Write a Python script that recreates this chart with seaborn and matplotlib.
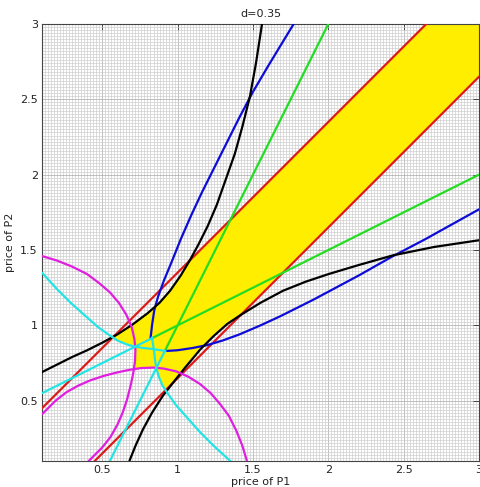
import numpy as np
import matplotlib
matplotlib.use("Agg")
import matplotlib.pyplot as plt
import seaborn as sns

sns.set_style("white")
plt.rcParams['font.family'] = ['DejaVu Sans']

# ---- data (price of P1 -> x, price of P2 -> y) ----
red_up_x = [0.10, 0.68, 1.07, 1.60, 2.10, 2.65]
red_up_y = [0.45, 1.03, 1.42, 1.95, 2.45, 3.00]
red_lo_x = [0.45, 1.00, 1.42, 2.00, 2.50, 3.00]
red_lo_y = [0.10, 0.65, 1.07, 1.65, 2.15, 2.65]

black1_x = [0.10, 0.20, 0.30, 0.40, 0.50, 0.60, 0.70, 0.80, 0.88, 0.95, 1.02, 1.08, 1.14, 1.20,
            1.26, 1.32, 1.38, 1.43, 1.48, 1.52, 1.56]
black1_y = [0.69, 0.74, 0.79, 0.835, 0.885, 0.94, 1.005, 1.08, 1.15, 1.23, 1.33, 1.43, 1.54, 1.66,
            1.80, 1.97, 2.14, 2.32, 2.52, 2.74, 3.00]
black2_x = [0.68, 0.72, 0.77, 0.83, 0.90, 0.97, 1.05, 1.15, 1.24, 1.33, 1.42, 1.55, 1.70, 1.85,
            2.00, 2.20, 2.43, 2.70, 3.00]
black2_y = [0.10, 0.20, 0.31, 0.42, 0.53, 0.62, 0.72, 0.84, 0.93, 1.01, 1.07, 1.15, 1.23, 1.29,
            1.34, 1.40, 1.465, 1.52, 1.565]

blue1_x = [0.82, 0.83, 0.845, 0.87, 0.91, 0.96, 1.02, 1.09, 1.16, 1.27, 1.41, 1.50, 1.60, 1.77]
blue1_y = [0.91, 1.00, 1.10, 1.19, 1.30, 1.42, 1.57, 1.73, 1.88, 2.10, 2.38, 2.55, 2.72, 3.00]
blue2_x = [0.92, 1.00, 1.10, 1.20, 1.30, 1.41, 1.55, 1.68, 1.80, 1.90, 2.05, 2.20, 2.43, 2.64, 2.82, 3.00]
blue2_y = [0.83, 0.835, 0.85, 0.87, 0.90, 0.94, 1.00, 1.06, 1.12, 1.17, 1.25, 1.33, 1.46, 1.57, 1.67, 1.77]

green1_x = [0.83, 3.00]
green1_y = [0.915, 2.00]
green2_x = [0.915, 2.00]
green2_y = [0.83, 3.00]

cyan1_x = [0.10, 0.20, 0.29, 0.38, 0.47, 0.54, 0.60, 0.66, 0.71, 0.77, 0.82, 0.92]
cyan1_y = [1.35, 1.24, 1.15, 1.07, 0.99, 0.94, 0.90, 0.875, 0.86, 0.85, 0.845, 0.83]
cyan2_x = [0.83, 0.845, 0.85, 0.86, 0.875, 0.90, 0.94, 0.99, 1.07, 1.15, 1.24, 1.35]
cyan2_y = [0.92, 0.82, 0.77, 0.71, 0.66, 0.60, 0.54, 0.47, 0.38, 0.29, 0.20, 0.10]
cyan3_x = [0.10, 0.83]
cyan3_y = [0.55, 0.915]
cyan4_x = [0.55, 0.915]
cyan4_y = [0.10, 0.83]

mag1_x = [0.10, 0.20, 0.30, 0.40, 0.48, 0.55, 0.61, 0.66, 0.695, 0.713, 0.72, 0.717, 0.705,
          0.688, 0.665, 0.635, 0.60, 0.555, 0.50, 0.45, 0.41]
mag1_y = [1.46, 1.43, 1.39, 1.34, 1.28, 1.22, 1.15, 1.07, 0.99, 0.91, 0.84, 0.76, 0.68,
          0.60, 0.51, 0.42, 0.34, 0.26, 0.19, 0.14, 0.10]
mag2_x = [1.46, 1.43, 1.39, 1.34, 1.28, 1.22, 1.15, 1.07, 0.99, 0.91, 0.84, 0.76, 0.68,
          0.60, 0.51, 0.42, 0.34, 0.26, 0.19, 0.14, 0.10]
mag2_y = [0.10, 0.20, 0.30, 0.40, 0.48, 0.55, 0.61, 0.66, 0.695, 0.713, 0.72, 0.717, 0.705,
          0.688, 0.665, 0.635, 0.60, 0.555, 0.50, 0.45, 0.41]

yellow_x = [2.65, 3.00, 3.00, 1.42, 1.33, 1.24, 1.15, 1.05, 0.97, 0.925, 0.90, 0.875, 0.86, 0.857,
            0.84, 0.76, 0.716, 0.717, 0.72, 0.72, 0.71, 0.66, 0.60, 0.568, 0.60, 0.70, 0.80,
            0.88, 0.95, 1.02, 1.075]
yellow_y = [3.00, 3.00, 2.65, 1.07, 1.01, 0.93, 0.84, 0.72, 0.62, 0.563, 0.60, 0.66, 0.71, 0.72,
            0.72, 0.717, 0.716, 0.76, 0.84, 0.857, 0.86, 0.875, 0.90, 0.923, 0.94, 1.005, 1.08,
            1.15, 1.23, 1.33, 1.425]

xticks = [0.5, 1, 1.5, 2, 2.5, 3]
xticklabels = ["0.5", "1", "1.5", "2", "2.5", "3"]
yticks = [0.5, 1, 1.5, 2, 2.5, 3]
yticklabels = ["0.5", "1", "1.5", "2", "2.5", "3"]
title = "d=0.35"
xlabel = "price of P1"
ylabel = "price of P2"

# ---- figure ----
fig = plt.figure(figsize=(4.81, 4.87), dpi=100)
ax = fig.add_axes([42/481, 1 - 461/487, 437/481, 437/487])

ax.set_xlim(0.1, 3.0)
ax.set_ylim(0.1, 3.0)

# dense minor grid (MATLAB "grid minor" look)
ax.set_xticks(np.arange(0.1, 3.0, 0.02), minor=True)
ax.set_yticks(np.arange(0.1, 3.0, 0.02), minor=True)
ax.grid(which='minor', color='#cfcfcf', lw=0.5, ls='-')
ax.grid(which='major', color='#b5b5b5', lw=0.6, ls='-')
ax.set_axisbelow(True)

ax.fill(yellow_x, yellow_y, color='#ffee00', lw=0, zorder=2)

LW = 1.6
def draw(xs, ys, c):
    sns.lineplot(x=xs, y=ys, sort=False, estimator=None, color=c, lw=LW, ax=ax, zorder=3)

RED, BLUE, GREEN, CYAN, MAG, BLK = '#dd1a1a', '#0c0cd6', '#22dd22', '#22e4e4', '#e01ee0', '#000000'
draw(red_up_x, red_up_y, RED)
draw(red_lo_x, red_lo_y, RED)
draw(green1_x, green1_y, GREEN)
draw(green2_x, green2_y, GREEN)
draw(blue1_x, blue1_y, BLUE)
draw(blue2_x, blue2_y, BLUE)
draw(black1_x, black1_y, BLK)
draw(black2_x, black2_y, BLK)
draw(mag1_x, mag1_y, MAG)
draw(mag2_x, mag2_y, MAG)
draw(cyan1_x, cyan1_y, CYAN)
draw(cyan2_x, cyan2_y, CYAN)
draw(cyan3_x, cyan3_y, CYAN)
draw(cyan4_x, cyan4_y, CYAN)

ax.set_xticks(xticks)
ax.set_xticklabels(xticklabels)
ax.set_yticks(yticks)
ax.set_yticklabels(yticklabels)
ax.tick_params(which='major', direction='in', length=4, width=0.6, colors='#333333',
               labelsize=8, top=True, right=True, labelcolor='#222222', pad=3)
ax.tick_params(which='minor', length=0)
for s in ax.spines.values():
    s.set_color('#444444')
    s.set_linewidth(0.8)
    s.set_visible(True)

ax.set_title(title, fontsize=8, color='#222222', pad=5)
ax.set_xlabel(xlabel, fontsize=8, color='#222222', labelpad=1)
ax.set_ylabel(ylabel, fontsize=8, color='#222222', labelpad=4)

fig.savefig("out.png", dpi=100)
